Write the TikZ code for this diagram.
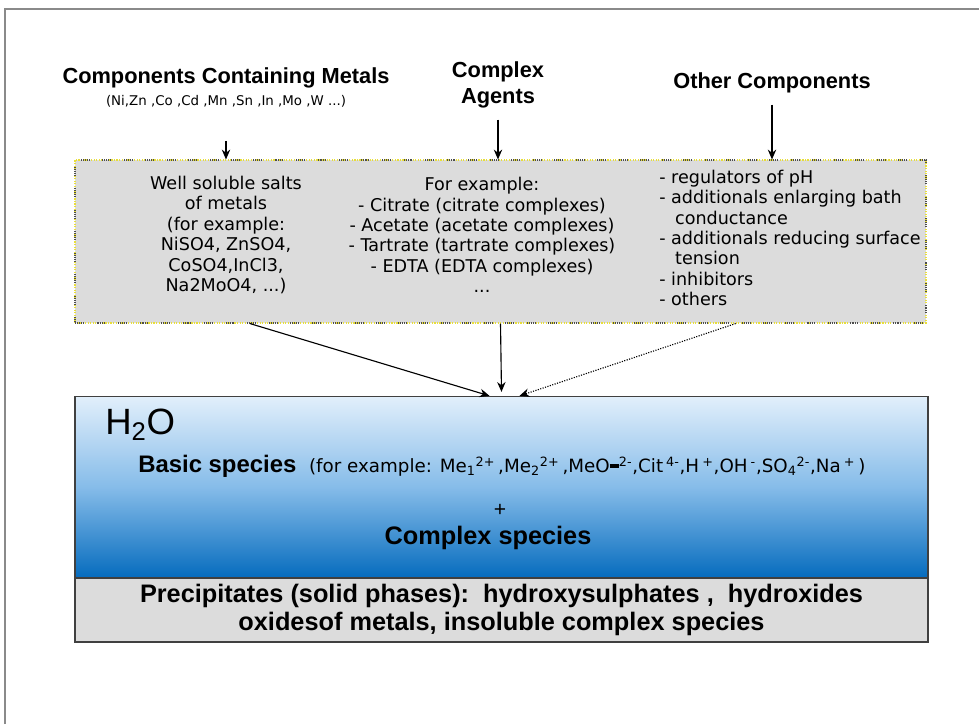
\documentclass[tikz,border=0pt]{standalone}
\usepackage{fontspec}
\setmainfont{Liberation Sans}
\newfontfamily\pixfont{DejaVu Sans}
\usetikzlibrary{arrows.meta,calc}
\definecolor{grigio}{HTML}{DCDCDC}
\definecolor{giallo}{HTML}{E8DE3A}
\definecolor{cielo}{HTML}{E2EFFB}
\definecolor{azzurro}{HTML}{86BCE9}
\definecolor{blu}{HTML}{066CBE}
\definecolor{cornice}{HTML}{8A8A8A}
\begin{document}
\begin{tikzpicture}[x=0.025cm,y=-0.025cm,
  titolo/.style={font=\fontsize{15.5}{18.5}\selectfont\bfseries, align=center, inner sep=0pt},
  testo/.style={font=\pixfont\fontsize{12.5}{14.5}\selectfont, inner sep=0pt},
  scatola/.style={fill=grigio, draw=giallo, densely dotted, line width=0.8pt,
    postaction={draw=black!70, dash pattern=on 0.7pt off 0.7pt on 0.7pt off 0.7pt on 0.7pt off 0.7pt on 0.7pt off 0.7pt on 0.7pt off 9pt}},
  bagno/.style={draw=black!75, line width=0.9pt, top color=cielo, bottom color=blu, middle color=azzurro},
  precip/.style={draw=black!75, line width=0.9pt, fill=grigio, align=center, inner sep=0pt},
  freccia/.style={-{Stealth[length=7pt,width=6pt]}, line width=0.8pt}]
% Definisci le variabili
\def\u{0.025cm}  % un pixel del disegno

% Cornice esterna
\useasboundingbox (0,0) rectangle (979,724);
\draw [cornice, line width=1.3pt] (5,724) -- (5,9) -- (979,9);

% Titoli in alto
\node[titolo] (metalli) at (226,78) {Components Containing Metals};
\node[font=\pixfont\fontsize{9.5}{11}\selectfont, inner sep=0pt] (elementi) at (226,101) {(Ni,Zn ,Co ,Cd ,Mn ,Sn ,In ,Mo ,W ...)};
\node[titolo] (agenti) at (498,85) {Complex\\Agents};
\node[titolo] (altri) at (772,83) {Other Components};

% Scatola grigia con i componenti
\node[scatola, minimum width=851*\u, minimum height=163*\u] (scatola) at (500.5,241.5) {};
\node[testo, align=center] (sali) at (226,235) {Well soluble salts\\of metals\\(for example:\\NiSO4, ZnSO4,\\CoSO4,InCl3,\\Na2MoO4, ...)};
\node[testo, align=center] (esempi) at (482,235) {For example:\\- Citrate (citrate complexes)\\- Acetate (acetate complexes)\\- Tartrate (tartrate complexes)\\- EDTA (EDTA complexes)\\...};
\node[testo, align=left, anchor=west] (altro) at (659,238) {- regulators of pH\\- additionals enlarging bath\\\hspace{0.9em}conductance\\- additionals reducing surface\\\hspace{0.9em}tension\\- inhibitors\\- others};

% Frecce verso la scatola
\draw [freccia, shorten <=24pt] (elementi.south) -- (elementi.south |- scatola.north);
\draw [freccia, shorten <=8pt] (agenti.south) -- (agenti.south |- scatola.north);
\draw [freccia, shorten <=8pt] (altri.south) -- (altri.south |- scatola.north);

% Bagno (H2O) e precipitati
\node[bagno, minimum width=853*\u, minimum height=181*\u] (bagno) at (501.5,487) {};
\node[precip, minimum width=853*\u, minimum height=64*\u, font=\bfseries\fontsize{18}{19.5}\selectfont] (solidi) at (501.5,610)
  {Precipitates (solid phases):\ \ hydroxysulphates ,\ \ hydroxides\\oxidesof metals, insoluble complex species};
\node[font=\fontsize{26}{30}\selectfont, anchor=west, inner sep=0pt] (acqua) at (105,425) {H\textsubscript{2}O};
\node[anchor=west, inner sep=0pt] (specie) at (138,466) {{\bfseries\fontsize{17}{20}\selectfont Basic species}\hspace{0.9em}{\pixfont\fontsize{13}{14}\selectfont (for example: Me\textsubscript{1}\textsuperscript{2+}\,,Me\textsubscript{2}\textsuperscript{2+}\,,MeO\rule[0.25em]{0.5em}{0.18em}\textsuperscript{2-},Cit\,\textsuperscript{4-},H\,\textsuperscript{+},OH\,\textsuperscript{-},SO\textsubscript{4}\textsuperscript{2-},Na\,\textsuperscript{+}\,)}};
\node[font=\fontsize{15}{17}\selectfont] (piu) at (500,510) {+};
\node[font=\bfseries\fontsize{18}{20}\selectfont] (complessi) at (488,538) {Complex species};

% Frecce dalla scatola al bagno
\draw [freccia] ($(scatola.south west)!0.206!(scatola.south east)$) -- ($(bagno.north)+(-12,0)$);
\draw [freccia] (scatola.south) -- ($(bagno.north)+(0,-4)$);
\draw [freccia, densely dotted] ($(scatola.south west)!0.776!(scatola.south east)$) -- ($(bagno.north)+(18,0)$);

\end{tikzpicture}
\end{document}
